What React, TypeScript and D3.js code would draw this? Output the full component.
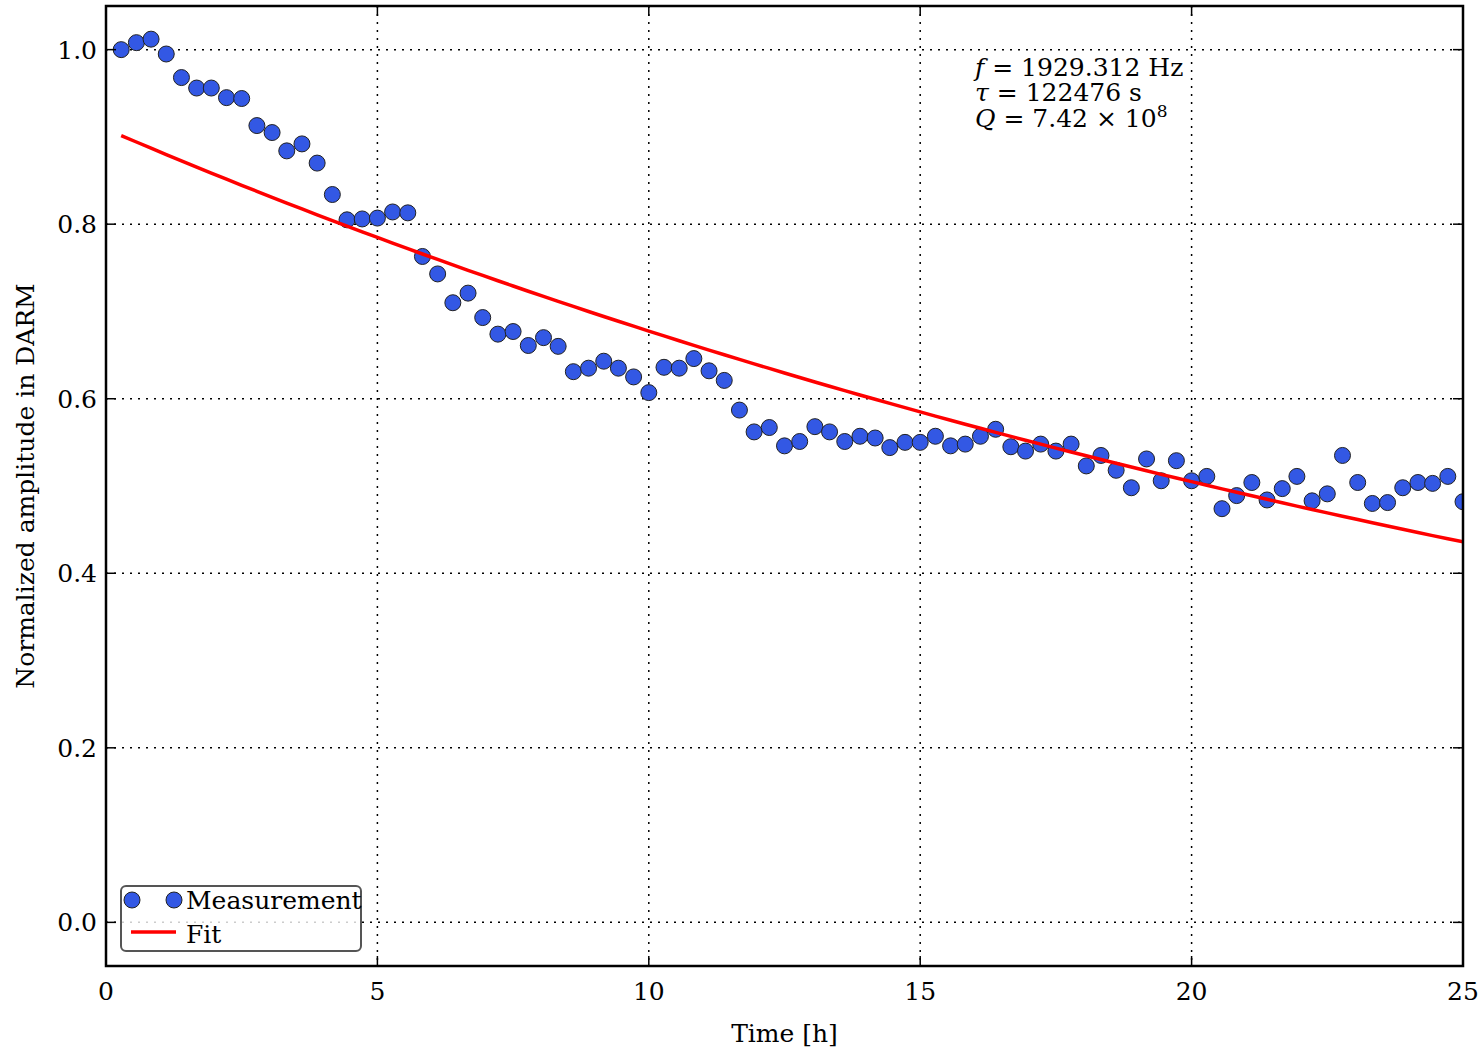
import React from "react";
import * as d3 from "d3";

// Measurement times [h]
const times: number[] = [
  0.28, 0.56, 0.83, 1.11, 1.39, 1.67, 1.94, 2.22, 2.5, 2.78,
  3.06, 3.33, 3.61, 3.89, 4.17, 4.44, 4.72, 5.0, 5.28, 5.56,
  5.83, 6.11, 6.39, 6.67, 6.94, 7.22, 7.5, 7.78, 8.06, 8.33,
  8.61, 8.89, 9.17, 9.44, 9.72, 10.0, 10.28, 10.56, 10.83, 11.11,
  11.39, 11.67, 11.94, 12.22, 12.5, 12.78, 13.06, 13.33, 13.61, 13.89,
  14.17, 14.44, 14.72, 15.0, 15.28, 15.56, 15.83, 16.11, 16.39, 16.67,
  16.94, 17.22, 17.5, 17.78, 18.06, 18.33, 18.61, 18.89, 19.17, 19.44,
  19.72, 20.0, 20.28, 20.56, 20.83, 21.11, 21.39, 21.67, 21.94, 22.22,
  22.5, 22.78, 23.06, 23.33, 23.61, 23.89, 24.17, 24.44, 24.72, 25.0,
];

// Normalized amplitudes
const amplitudes: number[] = [
  1.0, 1.008, 1.012, 0.995, 0.968, 0.956, 0.956, 0.945, 0.944, 0.913,
  0.905, 0.884, 0.892, 0.87, 0.834, 0.805, 0.806, 0.807, 0.814, 0.813,
  0.763, 0.743, 0.71, 0.721, 0.693, 0.674, 0.677, 0.661, 0.67, 0.66,
  0.631, 0.635, 0.643, 0.635, 0.625, 0.607, 0.636, 0.635, 0.646, 0.632,
  0.621, 0.587, 0.562, 0.567, 0.546, 0.551, 0.568, 0.562, 0.551, 0.557,
  0.555, 0.544, 0.55, 0.55, 0.557, 0.546, 0.548, 0.557, 0.565, 0.545,
  0.54, 0.548, 0.54, 0.548, 0.523, 0.535, 0.518, 0.498, 0.531, 0.506,
  0.529, 0.506, 0.511, 0.474, 0.489, 0.504, 0.484, 0.497, 0.511, 0.483,
  0.491, 0.535, 0.504, 0.48, 0.481, 0.498, 0.504, 0.503, 0.511, 0.482,
];

// Fit parameters
const fitAmplitude = 0.909;
const fitTau = 122476; // s

const xTicks: number[] = [0, 5, 10, 15, 20, 25];
const yTicks: number[] = [0.0, 0.2, 0.4, 0.6, 0.8, 1.0];

const W = 1484;
const H = 1050;
const L = 106, R = 1463, T = 6, B = 966;
const FONT = "'DejaVu Serif', serif";
const FS = 25;
const BLUE = "#3358e4";

export default function App() {
  const x = d3.scaleLinear().domain([0, 25]).range([L, R]);
  const y = d3.scaleLinear().domain([-0.05, 1.05]).range([B, T]);
  const fitLine = d3
    .line<number>()
    .x((t) => x(t))
    .y((t) => y(fitAmplitude * Math.exp((-t * 3600) / fitTau)));
  const tick = 10;

  return (
    <svg
      width={W}
      height={H}
      style={{ position: "absolute", left: 0, top: 0, background: "#fff" }}
      fontFamily={FONT}
    >
      <defs>
        <clipPath id="plotclip">
          <rect x={L} y={T} width={R - L} height={B - T} />
        </clipPath>
      </defs>
      <rect x={0} y={0} width={W} height={H} fill="#fff" />
      {/* grid */}
      <g stroke="#000" strokeWidth={1.5} strokeDasharray="2,6">
        {xTicks.slice(1, -1).map((t) => (
          <line key={"gx" + t} x1={x(t)} x2={x(t)} y1={T} y2={B} />
        ))}
        {yTicks.map((t) => (
          <line key={"gy" + t} x1={L} x2={R} y1={y(t)} y2={y(t)} />
        ))}
      </g>
      {/* data */}
      <g clipPath="url(#plotclip)">
        {times.map((t, i) => (
          <circle
            key={i}
            cx={x(t)}
            cy={y(amplitudes[i])}
            r={8}
            fill={BLUE}
            stroke="#222"
            strokeWidth={1}
          />
        ))}
        <path d={fitLine(times) || ""} fill="none" stroke="#ff0000" strokeWidth={3.5} />
      </g>
      {/* ticks */}
      <g stroke="#000" strokeWidth={1.5}>
        {xTicks.map((t) => (
          <g key={"tx" + t}>
            <line x1={x(t)} x2={x(t)} y1={B} y2={B - tick} />
            <line x1={x(t)} x2={x(t)} y1={T} y2={T + tick} />
          </g>
        ))}
        {yTicks.map((t) => (
          <g key={"ty" + t}>
            <line x1={L} x2={L + tick} y1={y(t)} y2={y(t)} />
            <line x1={R} x2={R - tick} y1={y(t)} y2={y(t)} />
          </g>
        ))}
      </g>
      <rect x={L} y={T} width={R - L} height={B - T} fill="none" stroke="#000" strokeWidth={2.5} />
      {/* tick labels */}
      <g fontSize={FS} fill="#000">
        {xTicks.map((t) => (
          <text key={"lx" + t} x={x(t)} y={B + 34} textAnchor="middle">
            {d3.format("d")(t)}
          </text>
        ))}
        {yTicks.map((t) => (
          <text key={"ly" + t} x={L - 9} y={y(t) + 9} textAnchor="end">
            {d3.format(".1f")(t)}
          </text>
        ))}
      </g>
      <text x={(L + R) / 2} y={1042} textAnchor="middle" fontSize={FS}>
        Time [h]
      </text>
      <text
        transform={`translate(34,${(T + B) / 2}) rotate(-90)`}
        textAnchor="middle"
        fontSize={FS}
      >
        Normalized amplitude in DARM
      </text>
      {/* annotation */}
      <g fontSize={FS}>
        <text x={975} y={76}>
          <tspan fontStyle="italic">f</tspan>
          <tspan> = 1929.312 Hz</tspan>
        </text>
        <text x={975} y={101}>
          <tspan fontStyle="italic">τ</tspan>
          <tspan> = 122476 s</tspan>
        </text>
        <text x={975} y={127}>
          <tspan fontStyle="italic">Q</tspan>
          <tspan> = 7.42 × 10</tspan>
          <tspan dy={-10} fontSize={17}>8</tspan>
        </text>
      </g>
      {/* legend */}
      <g>
        <rect x={121} y={886} width={240} height={65} rx={5} fill="#fff" fillOpacity={0.8} stroke="#555" strokeWidth={2} />
        <circle cx={132} cy={900} r={8} fill={BLUE} stroke="#222" strokeWidth={1} />
        <circle cx={174} cy={900} r={8} fill={BLUE} stroke="#222" strokeWidth={1} />
        <text x={186} y={909} fontSize={FS}>Measurement</text>
        <line x1={131} x2={176} y1={932} y2={932} stroke="#ff0000" strokeWidth={3.5} />
        <text x={186} y={943} fontSize={FS}>Fit</text>
      </g>
    </svg>
  );
}
